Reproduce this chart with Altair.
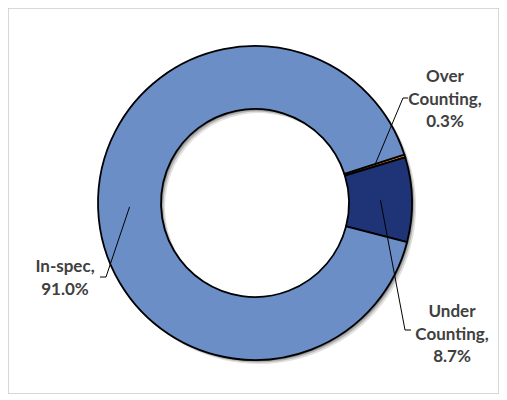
import math
import altair as alt
import pandas as pd

# ---- data ----
categories = ["Over Counting", "Under Counting", "In-spec"]
percent = [0.3, 8.7, 91.0]
label_text = ["Over\nCounting,\n0.3%", "Under\nCounting,\n8.7%", "In-spec,\n91.0%"]
colors = ["#c36b1c", "#1f3476", "#6b8ec7"]

# ---- layout ----
W, H = 491, 386
CX, CY = 247, 195
R_OUT, R_IN = 157, 94
START_DEG = 72.0
label_pos = [(437, 69), (444, 304), (57, 259)]   # first-line centres
elbow_pos = [(395, 90), (397, 322), (98, 269)]
hook_end = [(400, 90), (403, 322), (92, 269)]

start = math.radians(START_DEG)
order = list(range(len(categories)))
df = pd.DataFrame({"cat": categories, "pct": percent, "order": order})

# leader line start points at slice mid-angles
total = sum(percent)
cum = 0.0
segs = []
for i, p in enumerate(percent):
    mid = start + (cum + p / 2) / total * 2 * math.pi
    cum += p
    rm = (R_OUT + R_IN) / 2
    sx = CX + rm * math.sin(mid)
    sy = CY - rm * math.cos(mid)
    segs.append({"x": sx, "y": sy, "x2": elbow_pos[i][0], "y2": elbow_pos[i][1]})
    segs.append({"x": elbow_pos[i][0], "y": elbow_pos[i][1], "x2": hook_end[i][0], "y2": hook_end[i][1]})
seg_df = pd.DataFrame(segs)
lab_df = pd.DataFrame({"t": label_text, "x": [p[0] for p in label_pos], "y": [p[1] for p in label_pos]})

theta_scale = alt.Scale(domain=[0, total], range=[start, start + 2 * math.pi])
xs = alt.Scale(domain=[0, W], range=[0, W])
ys = alt.Scale(domain=[0, H], range=[0, H])

def shadow(dx, op):
    return alt.Chart(df).mark_arc(outerRadius=R_OUT, innerRadius=R_IN, fill="#000000", opacity=op, strokeWidth=0).encode(
        theta=alt.Theta("pct:Q", stack=True, scale=theta_scale),
        order=alt.Order("order:Q"),
        x=alt.value(CX + dx), y=alt.value(CY + dx),
    )

ring = alt.Chart(df).mark_arc(outerRadius=R_OUT, innerRadius=R_IN, stroke="#000000", strokeWidth=1.8).encode(
    theta=alt.Theta("pct:Q", stack=True, scale=theta_scale),
    order=alt.Order("order:Q"),
    color=alt.Color("cat:N", scale=alt.Scale(domain=categories, range=colors), legend=None),
    x=alt.value(CX), y=alt.value(CY),
)

lines = alt.Chart(seg_df).mark_rule(color="#000000", strokeWidth=1).encode(
    x=alt.X("x:Q", scale=xs, axis=None), y=alt.Y("y:Q", scale=ys, axis=None),
    x2="x2:Q", y2="y2:Q",
)

labels = alt.Chart(lab_df).mark_text(
    font="Lato", fontWeight="bold", fontSize=17, color="#404040",
    lineBreak="\n", lineHeight=22.5, align="center", baseline="middle",
).encode(
    x=alt.X("x:Q", scale=xs, axis=None), y=alt.Y("y:Q", scale=ys, axis=None), text="t:N",
)

chart = alt.layer(shadow(4, 0.12), shadow(2.5, 0.2), shadow(1.2, 0.3), ring, lines, labels).properties(
    width=W, height=H, padding=0,
    autosize=alt.AutoSizeParams(type="fit", contains="padding"),
).configure_view(stroke="#c8ccd4", strokeWidth=1.5)

chart.save("out.html", embed_options={"renderer": "svg", "actions": False})
